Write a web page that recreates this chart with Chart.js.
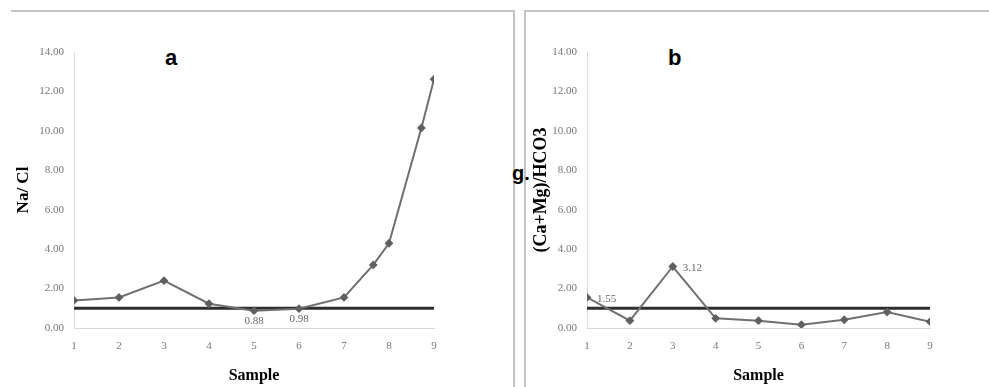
<!DOCTYPE html>
<html>
<head>
<meta charset="utf-8">
<script src="https://cdn.jsdelivr.net/npm/chart.js@4/dist/chart.umd.min.js"></script>
<style>
  body { margin: 0; background: #fff; width: 989px; height: 387px; overflow: hidden; position: relative; }
  canvas { position: absolute; }
  .frame { position: absolute; border-color: #c4c4c4; border-style: solid; border-width: 0; }
  .tag { position: absolute; font-family: "Liberation Sans", Arial, sans-serif; font-weight: bold; color: #000; }
</style>
</head>
<body>
<div class="frame" style="left:11px; top:10px; width:502px; height:377px; border-top-width:2px; border-right-width:2px;"></div>
<div class="frame" style="left:524px; top:10px; width:465px; height:377px; border-top-width:2px; border-left-width:2px;"></div>
<div class="tag" style="left:165px; top:45px; font-size:22px;">a</div>
<div class="tag" style="left:668px; top:45px; font-size:22px;">b</div>
<div class="tag" style="left:512px; top:162px; font-size:20px;">g.</div>
<canvas id="chartA" width="505" height="375" style="left:0; top:12px;"></canvas>
<canvas id="chartB" width="463" height="375" style="left:526px; top:12px;"></canvas>
<script>
// Campioni e rapporti
const sampleTicks = [1, 2, 3, 4, 5, 6, 7, 8, 9];
const naClX = [1, 2, 3, 4, 5, 6, 7, 7.65, 8, 8.72, 9];
const naClY = [1.40, 1.55, 2.40, 1.23, 0.88, 0.98, 1.55, 3.20, 4.30, 10.15, 12.62];
const caMgX = [1, 2, 3, 4, 5, 6, 7, 8, 9];
const caMgY = [1.55, 0.37, 3.12, 0.49, 0.37, 0.17, 0.42, 0.81, 0.32];
const refX = [1, 9];
const refY = [1, 1];
// etichette dei punti: [indice, testo]
const naClLabels = [[4, '0.88'], [5, '0.98']];
const caMgLabels = [[0, '1.55'], [2, '3.12']];

function toPoints(xs, ys) {
  return xs.map((x, i) => ({ x: x, y: ys[i] }));
}

// plugin per scrivere i valori vicino ai punti
const pointLabels = {
  id: 'pointLabels',
  afterDatasetsDraw(chart, args, opts) {
    const ctx = chart.ctx;
    const meta = chart.getDatasetMeta(0);
    ctx.save();
    ctx.font = '11px "Liberation Serif", serif';
    ctx.fillStyle = '#666';
    ctx.textBaseline = 'middle';
    opts.items.forEach(([i, txt]) => {
      const p = meta.data[i];
      ctx.textAlign = opts.align;
      ctx.fillText(txt, p.x + opts.dx, p.y + opts.dy);
    });
    ctx.restore();
  }
};

function makeChart(id, xs, ys, labels, yTitle, yWidth, padRight, titlePad, titleSize, lblOpts) {
  return new Chart(document.getElementById(id), {
    type: 'scatter',
    data: {
      datasets: [{
        data: toPoints(xs, ys),
        showLine: true,
        borderColor: '#707070',
        borderWidth: 2,
        pointStyle: 'rectRot',
        pointRadius: 3,
        pointBackgroundColor: '#606060',
        pointBorderColor: '#606060',
        tension: 0
      }, {
        data: toPoints(refX, refY),
        showLine: true,
        borderColor: '#2e2e2e',
        borderWidth: 3,
        pointRadius: 0
      }]
    },
    options: {
      responsive: false,
      animation: false,
      layout: { padding: { top: 40, right: padRight, left: 0, bottom: 0 } },
      plugins: {
        legend: { display: false },
        tooltip: { enabled: false },
        pointLabels: Object.assign({ items: labels }, lblOpts)
      },
      scales: {
        x: {
          type: 'linear',
          min: 1, max: 9,
          afterBuildTicks: s => { s.ticks = sampleTicks.map(v => ({ value: v })); },
          afterFit: s => { s.height = 59; },
          grid: { display: false, drawTicks: false },
          border: { color: '#d9d9d9', width: 1 },
          ticks: { padding: 12, color: '#777', font: { family: '"Liberation Serif", serif', size: 11 } },
          title: { display: true, text: 'Sample', color: '#000', padding: { top: 0, bottom: 2 },
                   font: { family: '"Liberation Serif", serif', size: 16, weight: 'bold' } }
        },
        y: {
          min: 0, max: 14,
          ticks: { stepSize: 2, padding: 10, color: '#777', callback: v => v.toFixed(2),
                   font: { family: '"Liberation Serif", serif', size: 11 } },
          afterFit: s => { s.width = yWidth; },
          grid: { display: false, drawTicks: false },
          border: { color: '#d9d9d9', width: 1 },
          title: { display: true, text: yTitle, color: '#000', padding: { top: titlePad, bottom: 0 },
                   font: { family: '"Liberation Serif", serif', size: titleSize, weight: 'bold' } }
        }
      }
    },
    plugins: [pointLabels]
  });
}

makeChart('chartA', naClX, naClY, naClLabels, 'Na/ Cl', 74, 71, 13, 17, { dx: 0, dy: 10, align: 'center' });
makeChart('chartB', caMgX, caMgY, caMgLabels, '(Ca+Mg)/HCO3', 61, 59, 5, 18, { dx: 10, dy: 2, align: 'left' });
</script>
</body>
</html>
